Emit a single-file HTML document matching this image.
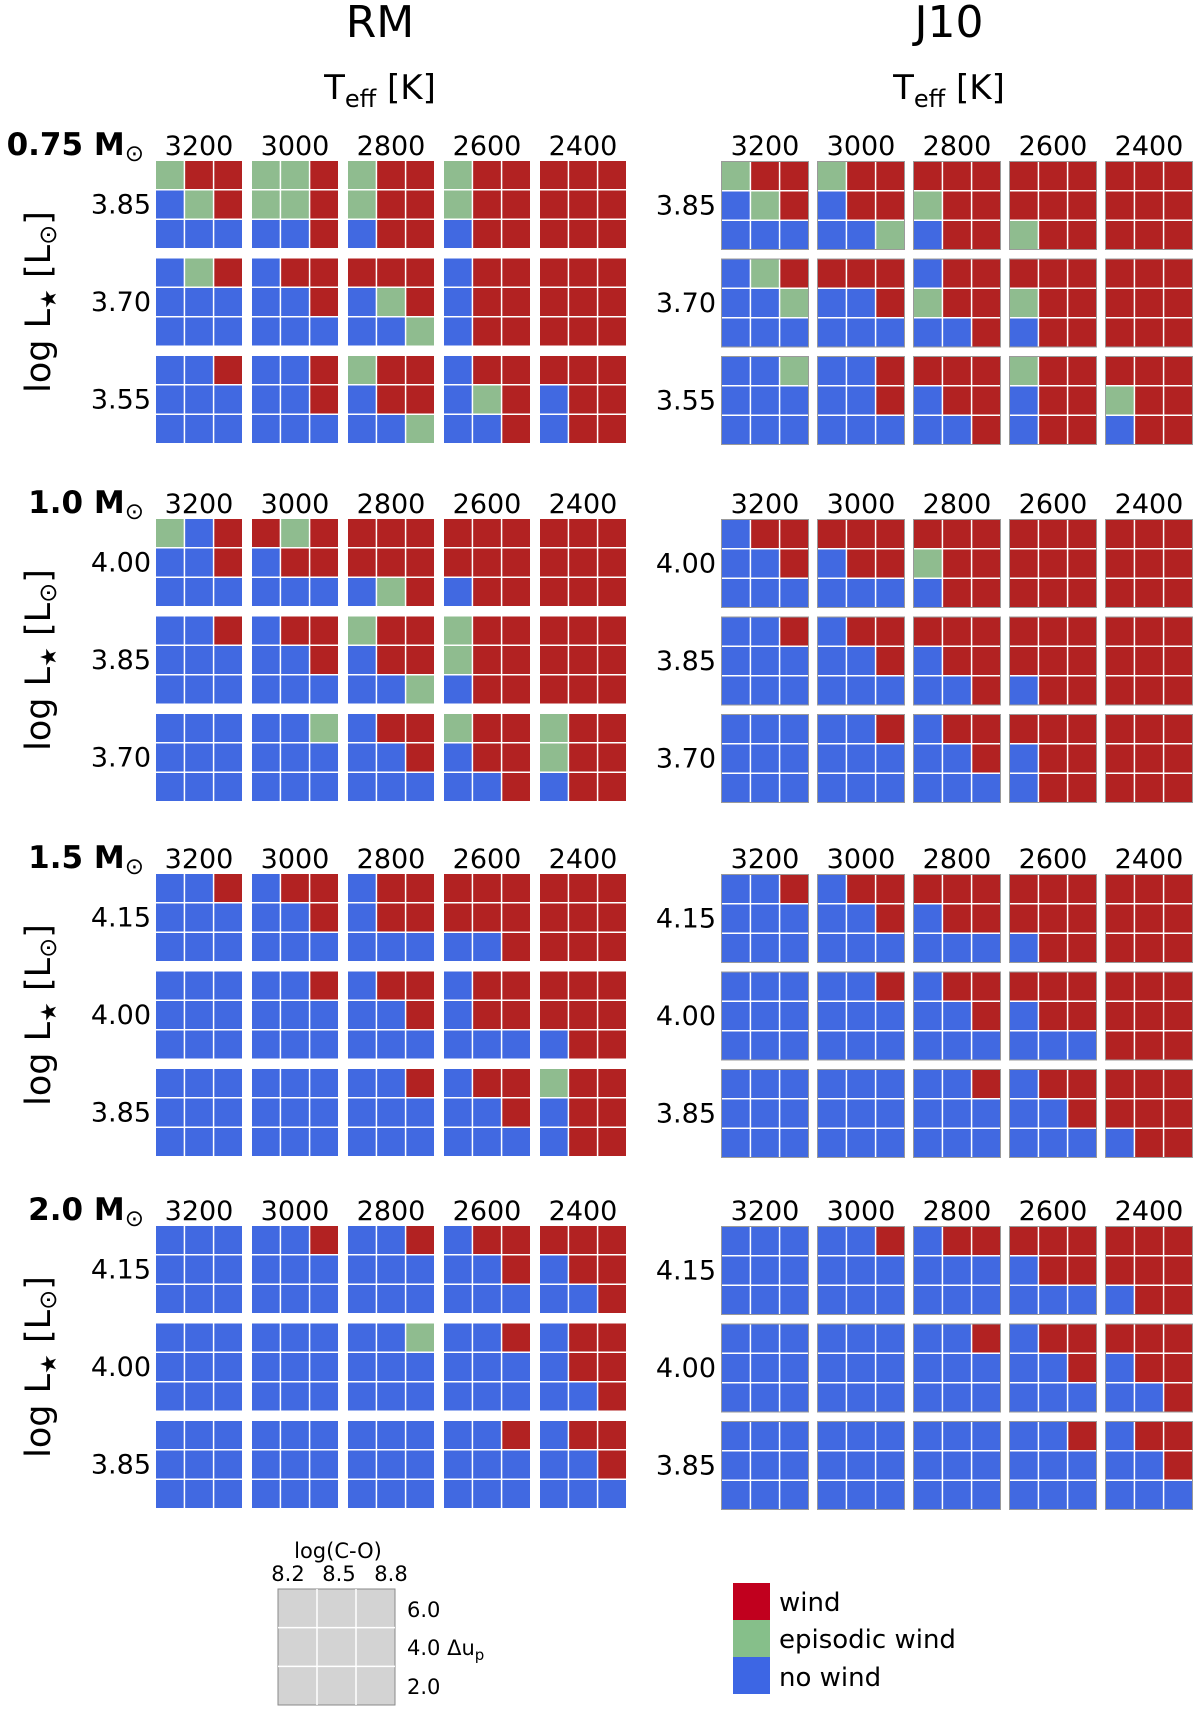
<!DOCTYPE html>
<html><head><meta charset="utf-8"><style>
html,body{margin:0;padding:0;background:#fff;}
svg{display:block;font-family:"DejaVu Sans","Liberation Sans",sans-serif;}
</style></head><body>
<svg id="fig" width="1200" height="1713" viewBox="0 0 1200 1713" xmlns="http://www.w3.org/2000/svg">
<text x="380" y="37" font-size="44" text-anchor="middle">RM</text>
<text x="949" y="37" font-size="44" text-anchor="middle">J10</text>
<text x="380" y="99" font-size="34" text-anchor="middle">T<tspan font-size="24" dy="8">eff</tspan><tspan dy="-8"> [K]</tspan></text>
<text x="949" y="99" font-size="34" text-anchor="middle">T<tspan font-size="24" dy="8">eff</tspan><tspan dy="-8"> [K]</tspan></text>
<g id="panels"></g>
<g>
  <text x="338" y="1558" font-size="21" text-anchor="middle">log(C-O)</text>
  <text x="288" y="1581" font-size="21" text-anchor="middle">8.2</text>
  <text x="339" y="1581" font-size="21" text-anchor="middle">8.5</text>
  <text x="391" y="1581" font-size="21" text-anchor="middle">8.8</text>
  <g id="keygrid"></g>
  <text x="407" y="1617" font-size="21">6.0</text>
  <text x="407" y="1655" font-size="21">4.0 Δu<tspan font-size="15" dy="5">p</tspan></text>
  <text x="407" y="1694" font-size="21">2.0</text>
</g>
<g>
  <rect x="733" y="1583" width="37" height="37" fill="#c1001e"/>
  <rect x="733" y="1620" width="37" height="37" fill="#86bf8a"/>
  <rect x="733" y="1657" width="37" height="37" fill="#3d66e4"/>
  <text x="779" y="1611" font-size="26">wind</text>
  <text x="779" y="1648" font-size="26">episodic wind</text>
  <text x="779" y="1686" font-size="26">no wind</text>
</g>
</svg>
<script>
const teffLabels = ['3200','3000','2800','2600','2400'];
const massLabels = ['0.75','1.0','1.5','2.0'];
const lumLabels = [['3.85','3.70','3.55'],['4.00','3.85','3.70'],['4.15','4.00','3.85'],['4.15','4.00','3.85']];
const rmOutcomes = [
 [['grrbgrbbb','ggrggrbbr','grrgrrbrr','grrgrrbrr','rrrrrrrrr'],
  ['bgrbbbbbb','brrbbrbbb','rrrbgrbbg','brrbrrbrr','rrrrrrrrr'],
  ['bbrbbbbbb','bbrbbrbbb','grrbrrbbg','brrbgrbbr','rrrbrrbrr']],
 [['gbrbbrbbb','rgrbrrbbb','rrrrrrbgr','rrrrrrbrr','rrrrrrrrr'],
  ['bbrbbbbbb','brrbbrbbb','grrbrrbbg','grrgrrbrr','rrrrrrrrr'],
  ['bbbbbbbbb','bbgbbbbbb','brrbbrbbb','grrbrrbbr','grrgrrbrr']],
 [['bbrbbbbbb','brrbbrbbb','brrbrrbbb','rrrrrrbbr','rrrrrrrrr'],
  ['bbbbbbbbb','bbrbbbbbb','brrbbrbbb','brrbrrbbb','rrrrrrbrr'],
  ['bbbbbbbbb','bbbbbbbbb','bbrbbbbbb','brrbbrbbb','grrbrrbrr']],
 [['bbbbbbbbb','bbrbbbbbb','bbrbbbbbb','brrbbrbbb','rrrbrrbbr'],
  ['bbbbbbbbb','bbbbbbbbb','bbgbbbbbb','bbrbbbbbb','brrbrrbbr'],
  ['bbbbbbbbb','bbbbbbbbb','bbbbbbbbb','bbrbbbbbb','brrbbrbbb']]
];
const j10Outcomes = [
 [['grrbgrbbb','grrbrrbbg','rrrgrrbrr','rrrrrrgrr','rrrrrrrrr'],
  ['bgrbbgbbb','rrrbbrbbb','brrgrrbbr','rrrgrrbrr','rrrrrrrrr'],
  ['bbgbbbbbb','bbrbbrbbb','rrrbrrbbr','grrbrrbrr','rrrgrrbrr']],
 [['brrbbrbbb','rrrbrrbbb','rrrgrrbrr','rrrrrrrrr','rrrrrrrrr'],
  ['bbrbbbbbb','brrbbrbbb','rrrbrrbbr','rrrrrrbrr','rrrrrrrrr'],
  ['bbbbbbbbb','bbrbbbbbb','brrbbrbbb','rrrbrrbrr','rrrrrrrrr']],
 [['bbrbbbbbb','brrbbrbbb','rrrbrrbbb','rrrrrrbrr','rrrrrrrrr'],
  ['bbbbbbbbb','bbrbbbbbb','brrbbrbbb','rrrbrrbbb','rrrrrrrrr'],
  ['bbbbbbbbb','bbbbbbbbb','bbrbbbbbb','brrbbrbbb','rrrrrrbrr']],
 [['bbbbbbbbb','bbrbbbbbb','brrbbbbbb','rrrbrrbbb','rrrrrrbrr'],
  ['bbbbbbbbb','bbbbbbbbb','bbrbbbbbb','brrbbrbbb','rrrbrrbbr'],
  ['bbbbbbbbb','bbbbbbbbb','bbbbbbbbb','bbrbbbbbb','brrbbrbbb']]
];

const NS = 'http://www.w3.org/2000/svg';
const colors = {r:'#b22222', g:'#8fbc8f', b:'#4169e1'};
const groupTop = [161, 519, 874, 1226];
const blockW = 86, blockH = 87, pitchX = 96, pitchY = 97.5, gap = 1.5;
const panels = document.getElementById('panels');

function mk(tag, attrs) {
  const e = document.createElementNS(NS, tag);
  for (const k in attrs) e.setAttribute(k, attrs[k]);
  return e;
}
function xBlock(model, i) { return (model === 0 ? 156 : 722) + i * pitchX; }
function yBlock(model, m, j) { return groupTop[m] + (model === 0 ? 0 : 1) + j * pitchY; }

function drawPanel(model, m, data) {
  const g = mk('g', {});
  
  
  panels.appendChild(g);
  teffLabels.forEach((t, i) => {
    const tx = mk('text', {x: xBlock(model, i) + blockW / 2, y: groupTop[m] - 6, 'font-size': 27, 'text-anchor': 'middle'});
    
    
    tx.textContent = t;
    g.appendChild(tx);
  });
  lumLabels[m].forEach((l, j) => {
    const tx = mk('text', {x: model === 0 ? 151 : 716, y: yBlock(model, m, j) + blockH / 2 + 9, 'font-size': 27, 'text-anchor': 'end'});
    
    
    tx.textContent = l;
    g.appendChild(tx);
  });
  const cw = (blockW - 2 * gap) / 3, ch = (blockH - 2 * gap) / 3;
  data.forEach((row, j) => {
    row.forEach((blk, i) => {
      const bx = xBlock(model, i), by = yBlock(model, m, j);
      const bg = mk('g', {});
      
      
      g.appendChild(bg);
      for (let k = 0; k < 9; k++) {
        const r = Math.floor(k / 3), c = k % 3;
        const rc = mk('rect', {x: bx + c * (cw + gap), y: by + r * (ch + gap), width: cw, height: ch, fill: colors[blk[k]]});
        
        
        bg.appendChild(rc);
      }
      if (model === 1) {
        const br = mk('rect', {x: bx - 0.5, y: by - 0.5, width: blockW + 1, height: blockH + 1, fill: 'none', stroke: '#9a9a9a', 'stroke-width': 1});
        
        
        bg.appendChild(br);
      }
    });
  });
  if (model === 0) {
    const ml = mk('text', {x: 144, y: groupTop[m] - 6, 'font-size': 31, 'font-weight': 'bold', 'text-anchor': 'end'});
    
    
    ml.textContent = massLabels[m] + ' M';
    const sub = mk('tspan', {'font-size': 23, dy: 6, 'font-weight': 'normal'});
    sub.textContent = '⊙';
    ml.appendChild(sub);
    g.appendChild(ml);
    const yl = mk('text', {x: 0, y: 0, 'font-size': 35, 'text-anchor': 'middle', transform: 'translate(50,' + (groupTop[m] + 141) + ') rotate(-90)'});
    
    
    yl.textContent = 'log L';
    const s1 = mk('tspan', {'font-size': 22, dy: 6}); s1.textContent = '★';
    const s2 = mk('tspan', {dy: -6}); s2.textContent = ' [L';
    const s3 = mk('tspan', {'font-size': 24, dy: 6}); s3.textContent = '⊙';
    const s4 = mk('tspan', {dy: -6}); s4.textContent = ']';
    [s1, s2, s3, s4].forEach(s => yl.appendChild(s));
    g.appendChild(yl);
  }
}
for (let m = 0; m < 4; m++) {
  drawPanel(0, m, rmOutcomes[m]);
  drawPanel(1, m, j10Outcomes[m]);
}
const kg = document.getElementById('keygrid');
const kx = 278, ky = 1589, kw = 117, kh = 116;
const bgR = mk('rect', {x: kx, y: ky, width: kw, height: kh, fill: '#d3d3d3', stroke: '#8a8a8a', 'stroke-width': 1});


kg.appendChild(bgR);
for (let q = 1; q < 3; q++) {
  const lv = mk('line', {x1: kx + q * kw / 3, x2: kx + q * kw / 3, y1: ky, y2: ky + kh, stroke: '#fff', 'stroke-width': 1.5});
  
  
  kg.appendChild(lv);
  const lh = mk('line', {x1: kx, x2: kx + kw, y1: ky + q * kh / 3, y2: ky + q * kh / 3, stroke: '#fff', 'stroke-width': 1.5});
  
  
  kg.appendChild(lh);
}
</script>
</body></html>
